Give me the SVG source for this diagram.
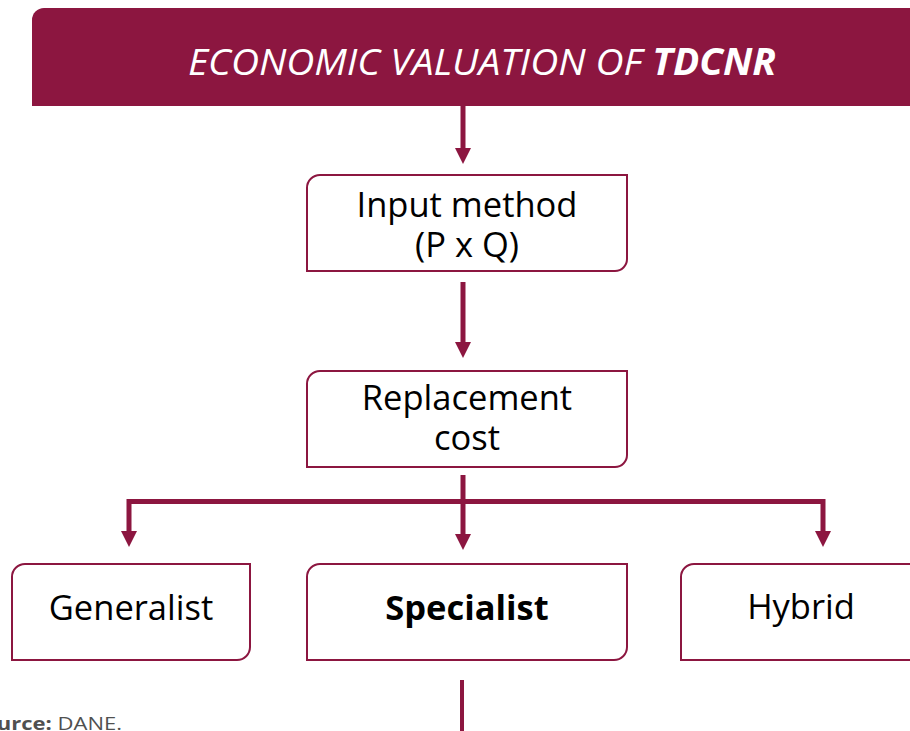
<svg xmlns="http://www.w3.org/2000/svg" width="910" height="731" viewBox="0 0 910 731">
<defs>
<style>
.box{fill:#fff;stroke:#8c1640;stroke-width:2}
.t{font-family:"Open Sans","Noto Sans","Liberation Sans",sans-serif;font-size:34.5px;fill:#000;text-anchor:middle}
.ln{stroke:#8c1640;stroke-width:5;fill:none}
.ah{fill:#8c1640}
</style>
</defs>
<rect width="910" height="731" fill="#fff"/>
<g id="header">
<path d="M44,8 H920 V106 H32 V20 A12,12 0 0 1 44,8 Z" fill="#8c1640"/>
<text x="482" y="75" class="t" style="fill:#fff;font-style:italic;font-size:37px" textLength="588" lengthAdjust="spacingAndGlyphs">ECONOMIC VALUATION OF <tspan font-weight="bold">TDCNR</tspan></text>
</g>
<g id="connectors">
<line class="ln" x1="463" y1="106" x2="463" y2="148"/>
<path class="ah" d="M455,148 H471 L463,164 Z"/>
<line class="ln" x1="463" y1="282" x2="463" y2="342"/>
<path class="ah" d="M455,342 H471 L463,358 Z"/>
<line class="ln" x1="463" y1="475" x2="463" y2="534"/>
<path class="ah" d="M455,534 H471 L463,550 Z"/>
<polyline class="ln" points="129,531 129,501.5 823,501.5 823,531"/>
<path class="ah" d="M121,531 H137 L129,547 Z"/>
<path class="ah" d="M815,531 H831 L823,547 Z"/>
<line class="ln" x1="462" y1="680" x2="462" y2="731" style="stroke-width:4"/>
</g>
<g id="input">
<path class="box" d="M320,175 H627 V259 A12,12 0 0 1 615,271 H307 V188 A13,13 0 0 1 320,175 Z"/>
<text class="t" x="467" y="217">Input method</text>
<text class="t" x="467" y="257">(P x Q)</text>
</g>
<g id="replacement">
<path class="box" d="M320,371 H627 V455 A12,12 0 0 1 615,467 H307 V384 A13,13 0 0 1 320,371 Z"/>
<text class="t" x="467" y="410">Replacement</text>
<text class="t" x="467" y="450">cost</text>
</g>
<g id="generalist">
<path class="box" d="M25,564 H250 V647 A13,13 0 0 1 237,660 H12 V577 A13,13 0 0 1 25,564 Z"/>
<text class="t" x="131" y="620">Generalist</text>
</g>
<g id="specialist">
<path class="box" d="M320,564 H627 V647 A13,13 0 0 1 614,660 H307 V577 A13,13 0 0 1 320,564 Z"/>
<text class="t" x="467" y="620" font-weight="bold">Specialist</text>
</g>
<g id="hybrid">
<path class="box" d="M694,564 H920 V660 H681 V577 A13,13 0 0 1 694,564 Z"/>
<text class="t" x="801" y="619">Hybrid</text>
</g>
<text x="-29" y="730" textLength="151" lengthAdjust="spacingAndGlyphs" style="font-family:'Open Sans','Noto Sans',sans-serif;font-size:18px;fill:#505050"><tspan font-weight="bold">Source:</tspan> DANE.</text>
</svg>
